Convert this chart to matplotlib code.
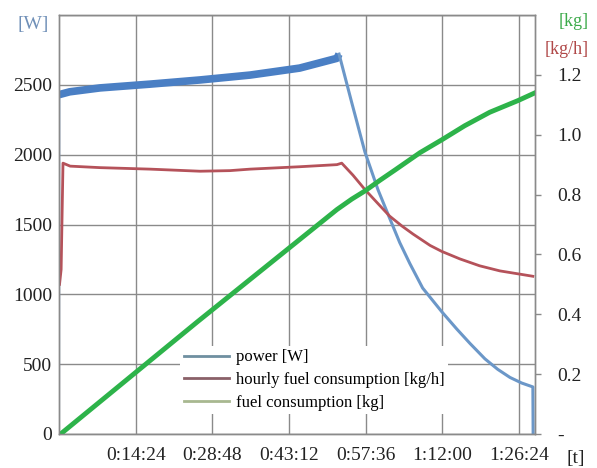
import matplotlib
matplotlib.use("Agg")
import matplotlib.pyplot as plt
from matplotlib.lines import Line2D

plt.rcParams['font.family'] = ['Liberation Serif', 'DejaVu Serif']

# time in minutes
power_t = [0, 0.05, 2, 7.7, 17.1, 26.5, 35.9, 45.2, 52.2, 52.6]
power_w = [0, 2430, 2450, 2478, 2505, 2535, 2570, 2620, 2690, 2720]
drop_t = [52.6, 55.0, 57.45, 59.9, 62.1, 64.0, 65.9, 68.3, 71.9, 74.7,
          77.2, 80.0, 82.4, 84.7, 86.9, 89.0, 89.05]
drop_w = [2720, 2370, 2020, 1750, 1545, 1370, 1220, 1045, 875, 752,
          648, 538, 463, 405, 365, 337, 0]

rate_t = [0.1, 0.4, 0.75, 2.1, 7.7, 17.1, 26.5, 32.1, 35.9, 45.2, 52.2, 53.1,
          55.2, 57.45, 59.9, 62.1, 64.4, 66.5, 69.7, 71.9, 75.3, 79.0, 82.8,
          86.6, 89.0]
rate_kgh = [0.5, 0.55, 0.905, 0.895, 0.89, 0.885, 0.878, 0.88, 0.885, 0.893,
            0.9, 0.905, 0.865, 0.817, 0.77, 0.728, 0.695, 0.668, 0.63, 0.61,
            0.585, 0.562, 0.545, 0.534, 0.527]

fuel_t = [0.3, 26.0, 52.2, 55.0, 57.45, 60.3, 63.1, 67.8, 71.9, 76.2, 80.9,
          86.2, 89.4]
fuel_kg = [0, 0.375, 0.75, 0.785, 0.812, 0.848, 0.882, 0.94, 0.983, 1.03,
           1.075, 1.114, 1.14]

x_ticks = [14.4, 28.8, 43.2, 57.6, 72.0, 86.4]
x_labels = ['0:14:24', '0:28:48', '0:43:12', '0:57:36', '1:12:00', '1:26:24']
left_ticks = [0, 500, 1000, 1500, 2000, 2500]
right_ticks = [0, 0.2, 0.4, 0.6, 0.8, 1.0, 1.2]
right_labels = ['-', '0.2', '0.4', '0.6', '0.8', '1.0', '1.2']

fig = plt.figure(figsize=(5.97, 4.68), dpi=100)
ax = fig.add_axes([59/597, 34/468, 476/597, 419/468])
ax2 = ax.twinx()

grid_c = '#8a8a8a'
ax.plot(power_t[:2], power_w[:2], color='#7fa6d6', lw=1.5)
ax.plot(power_t[1:], power_w[1:], color='#4a7fc4', lw=5.5, solid_capstyle='butt')
ax.plot(drop_t, drop_w, color='#6b97c8', lw=2.2)

ax2.plot(rate_t, rate_kgh, color='#b5525a', lw=2.0)
ax2.plot(fuel_t, fuel_kg, color='#2db34a', lw=3.5)

ax.set_xlim(0, 89.4)
ax.set_ylim(0, 3000)
ax2.set_ylim(0, 1.4)

ax.set_xticks(x_ticks)
ax.set_xticklabels(x_labels)
ax.set_yticks(left_ticks + [3000])
ax.set_yticklabels([str(v) for v in left_ticks] + [''])
ax.grid(True, color=grid_c, lw=1.0)
ax.set_axisbelow(True)
ax.tick_params(axis='both', length=0, labelsize=14, colors='#222222')
ax.tick_params(axis='x', pad=9)
ax.tick_params(axis='y', pad=5)

ax2.set_yticks(right_ticks)
ax2.set_yticklabels(right_labels)
ax2.tick_params(axis='y', direction='out', length=4, width=1, color=grid_c,
                labelsize=14, pad=12, labelcolor='#222222')

for a in (ax, ax2):
    for s in a.spines.values():
        s.set_color(grid_c)
        s.set_linewidth(1.0)

fig.text(33/597, 1 - 24/468, '[W]', color='#7090b8', fontsize=14,
         ha='center', va='center')
fig.text(574/597, 1 - 21/468, '[kg]', color='#3caa4a', fontsize=13,
         ha='center', va='center')
fig.text(567/597, 1 - 50/468, '[kg/h]', color='#b04848', fontsize=13,
         ha='center', va='center')
fig.text(576/597, 1 - 458/468, '[t]', color='#222222', fontsize=14,
         ha='center', va='center')

handles = [Line2D([], [], color='#6f8fa0', lw=2),
           Line2D([], [], color='#8a6068', lw=2),
           Line2D([], [], color='#a8b890', lw=2)]
leg = ax2.legend(handles, ['power [W]', 'hourly fuel consumption [kg/h]',
                           'fuel consumption [kg]'],
                 loc='upper left', bbox_to_anchor=(0.255, 0.21),
                 fontsize=12, frameon=True, fancybox=False, edgecolor='none',
                 facecolor='white', framealpha=1, borderpad=0.2,
                 labelspacing=0.4, handlelength=2.7, handletextpad=0.45,
                 borderaxespad=0)
leg.set_zorder(10)

fig.savefig('out.png', dpi=100)
